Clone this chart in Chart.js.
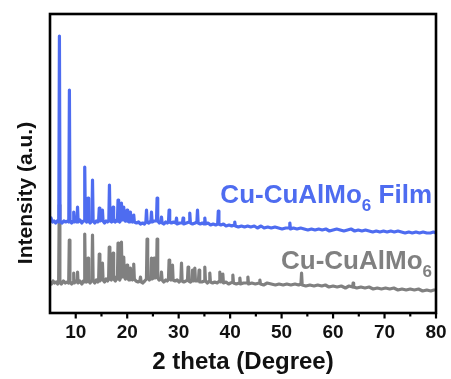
<!DOCTYPE html>
<html><head><meta charset="utf-8">
<script src="https://cdn.jsdelivr.net/npm/chart.js@4"></script>
<style>html,body{margin:0;padding:0;background:#fff}#wrap{width:451px;height:379px;position:relative}</style>
</head><body><div id="wrap"><canvas id="c"></canvas></div>
<script>
// ---- data ----
const xMajorTicks = [10, 20, 30, 40, 50, 60, 70, 80];
const xMinorTicks = [15, 25, 35, 45, 55, 65, 75];
const xTitle = '2 theta (Degree)';
const yTitle = 'Intensity (a.u.)';
const filmLabel = ['Cu-CuAlMo', '6', ' Film'];
const powderLabel = ['Cu-CuAlMo', '6', ''];

// [2theta, intensity (offset, a.u.)]  — Cu-CuAlMo6 Film (blue)
const filmPoints = [[5.0,93],[5.2,95],[5.5,91],[5.8,92],[6.1,90],[6.4,92],[6.71,91],[6.83,277],[6.95,92],[7.3,90],[7.7,92],[8.1,91],[8.4,92],[8.65,91],[8.77,223],[8.89,92],[9.2,90],[9.49,92],[9.61,101],[9.73,91],[10.0,92],[10.23,91],[10.35,106],[10.47,91],[10.8,93],[11.2,90],[11.45,92],[11.63,92],[11.75,146],[11.87,93],[12.1,91],[12.27,93],[12.39,115],[12.51,92],[12.8,90],[13.14,92],[13.26,133],[13.38,92],[13.7,90],[14.0,92],[14.3,91],[14.45,93],[14.57,105],[14.69,92],[15.07,93],[15.19,103],[15.31,92],[15.6,90],[15.9,92],[16.2,91],[16.43,93],[16.55,128],[16.67,92],[16.95,91],[17.13,93],[17.25,106],[17.37,92],[17.7,91],[17.95,93],[18.1,92],[18.22,113],[18.34,92],[18.55,91],[18.76,93],[18.88,110],[19.0,93],[19.21,94],[19.33,106],[19.45,93],[19.65,92],[19.85,93],[19.97,103],[20.09,92],[20.35,91],[20.51,93],[20.63,101],[20.75,92],[21.0,91],[21.15,93],[21.27,98],[21.39,91],[21.8,90],[22.2,91],[22.6,89],[23.0,90],[23.35,89],[23.63,91],[23.75,103],[23.87,91],[24.2,90],[24.6,92],[24.72,101],[24.84,91],[25.2,92],[25.69,92],[25.81,115],[25.93,92],[26.25,90],[26.54,91],[26.66,96],[26.78,90],[27.1,89],[27.5,91],[27.8,90],[28.02,91],[28.14,103],[28.26,91],[28.6,90],[29.0,91],[29.46,90],[29.58,95],[29.7,89],[30.2,90],[30.74,90],[30.86,95],[30.98,89],[31.5,90],[32.04,91],[32.16,100],[32.28,90],[32.7,89],[33.2,90],[33.54,91],[33.66,103],[33.78,90],[34.2,89],[34.6,90],[34.96,89],[35.08,95],[35.2,89],[35.7,90],[36.2,88],[36.7,89],[37.2,88],[37.58,89],[37.7,102],[37.82,89],[38.2,88],[38.7,89],[39.2,87],[39.8,88],[40.3,87],[40.78,88],[40.9,91],[41.02,87],[41.6,86],[42.2,87],[42.8,86],[43.4,87],[44.0,86],[44.7,87],[45.3,85],[46.0,87],[46.6,85],[47.3,86],[48.0,85],[48.7,86],[49.4,85],[50.1,84],[50.8,85],[51.48,85],[51.6,90],[51.72,84],[52.3,85],[53.0,84],[53.7,85],[54.4,84],[55.1,83],[55.8,84],[56.5,83],[57.2,84],[57.9,83],[58.6,84],[59.3,82],[60.0,83],[60.7,84],[61.4,83],[62.1,82],[62.8,83],[63.5,84],[64.2,82],[64.9,83],[65.6,82],[66.3,83],[67.0,82],[67.7,81],[68.4,82],[69.1,81],[69.8,82],[70.5,81],[71.2,82],[71.9,81],[72.6,82],[73.3,81],[74.0,80],[74.7,81],[75.4,80],[76.1,81],[76.8,80],[77.5,81],[78.2,80],[78.9,80],[79.5,81],[80.0,80]];

// [2theta, intensity (a.u.)] — Cu-CuAlMo6 (gray)
const powderPoints = [[5.0,31],[5.3,29],[5.6,32],[5.9,30],[6.2,31],[6.5,29],[6.68,32],[6.8,108],[6.92,31],[7.2,29],[7.6,32],[8.0,30],[8.3,31],[8.63,30],[8.75,73],[8.87,31],[9.2,29],[9.5,31],[9.61,40],[9.72,30],[10.0,32],[10.25,31],[10.35,41],[10.45,30],[10.8,32],[11.2,29],[11.5,32],[11.63,31],[11.75,79],[11.87,32],[12.1,31],[12.28,33],[12.39,55],[12.5,32],[12.8,30],[13.14,33],[13.26,78],[13.38,32],[13.7,30],[14.0,33],[14.3,31],[14.45,33],[14.57,59],[14.69,32],[15.07,34],[15.19,50],[15.31,33],[15.6,31],[15.9,34],[16.2,32],[16.39,35],[16.51,66],[16.63,34],[16.9,33],[17.13,35],[17.25,60],[17.37,34],[17.7,32],[17.95,36],[18.1,34],[18.22,70],[18.34,35],[18.55,33],[18.76,36],[18.88,71],[19.0,36],[19.21,37],[19.33,56],[19.45,36],[19.65,34],[19.85,36],[19.97,48],[20.09,35],[20.35,33],[20.51,36],[20.63,45],[20.75,35],[21.0,33],[21.15,36],[21.27,49],[21.39,34],[21.7,32],[22.1,31],[22.46,32],[22.58,36],[22.7,31],[23.0,30],[23.4,32],[23.74,34],[23.86,74],[23.98,35],[24.3,33],[24.6,35],[24.72,55],[24.84,34],[25.1,35],[25.22,55],[25.34,35],[25.69,36],[25.81,74],[25.93,35],[26.2,33],[26.54,34],[26.66,41],[26.78,33],[27.1,31],[27.5,33],[27.8,32],[28.02,34],[28.14,53],[28.26,34],[28.5,33],[28.68,34],[28.80,48],[28.92,33],[29.3,32],[29.7,33],[30.1,31],[30.43,33],[30.55,50],[30.67,32],[31.0,31],[31.4,32],[31.71,33],[31.83,46],[31.95,32],[32.3,31],[32.57,33],[32.69,43],[32.81,32],[33.02,33],[33.14,45],[33.26,32],[33.6,32],[33.85,33],[33.97,43],[34.09,31],[34.5,31],[34.96,32],[35.08,46],[35.2,32],[35.6,30],[35.93,32],[36.05,40],[36.17,31],[36.6,30],[37.0,31],[37.5,30],[37.88,32],[38.0,41],[38.12,31],[38.46,32],[38.58,39],[38.7,30],[39.2,31],[39.7,29],[40.1,30],[40.41,31],[40.53,38],[40.65,30],[41.2,29],[41.77,30],[41.89,35],[42.01,29],[42.6,30],[43.33,30],[43.45,36],[43.57,29],[44.2,30],[44.9,29],[45.66,30],[45.78,33],[45.9,29],[46.5,28],[47.2,30],[48.0,29],[48.8,28],[49.5,29],[50.3,28],[51.0,29],[51.8,28],[52.6,29],[53.3,28],[53.76,29],[53.88,40],[54.0,28],[54.7,27],[55.5,28],[56.3,27],[57.0,28],[57.8,27],[58.5,28],[59.2,26],[60.0,27],[60.8,26],[61.6,27],[62.4,25],[63.1,27],[63.8,26],[63.9,30],[64.0,26],[64.6,25],[65.4,26],[66.2,25],[67.0,26],[67.8,24],[68.6,25],[69.4,24],[70.2,25],[71.0,24],[71.8,25],[72.6,23],[73.4,24],[74.2,23],[75.0,24],[75.8,23],[76.6,24],[77.4,22],[78.2,23],[79.0,22],[79.6,23],[80.0,23]];

const BLUE = '#4e6cf0';
const GRAY = '#808080';
const FONT = '"Liberation Sans", Arial, sans-serif';

function drawLabel(ctx, parts, right, baseline, color) {
  ctx.save();
  ctx.fillStyle = color;
  ctx.textBaseline = 'alphabetic';
  ctx.textAlign = 'left';
  const big = 'bold 26px ' + FONT, small = 'bold 17px ' + FONT;
  ctx.font = big; const w0 = ctx.measureText(parts[0]).width; const w2 = ctx.measureText(parts[2]).width;
  ctx.font = small; const w1 = ctx.measureText(parts[1]).width;
  let x = right - (w0 + w1 + w2);
  ctx.font = big; ctx.fillText(parts[0], x, baseline); x += w0;
  ctx.font = small; ctx.fillText(parts[1], x, baseline + 8); x += w1;
  ctx.font = big; ctx.fillText(parts[2], x, baseline);
  ctx.restore();
}

const decor = {
  id: 'decor',
  afterDraw(chart) {
    const ctx = chart.ctx, a = chart.chartArea, xs = chart.scales.x;
    ctx.save();
    ctx.strokeStyle = '#000'; ctx.lineWidth = 2.6;
    ctx.strokeRect(a.left, a.top, a.right - a.left, a.bottom - a.top);
    ctx.lineWidth = 2.2;
    xMajorTicks.forEach(v => { const p = xs.getPixelForValue(v); ctx.beginPath(); ctx.moveTo(p, a.bottom); ctx.lineTo(p, a.bottom + 5.5); ctx.stroke(); });
    xMinorTicks.forEach(v => { const p = xs.getPixelForValue(v); ctx.beginPath(); ctx.moveTo(p, a.bottom); ctx.lineTo(p, a.bottom + 3.5); ctx.stroke(); });
    ctx.fillStyle = '#111'; ctx.font = 'bold 19px ' + FONT; ctx.textAlign = 'center'; ctx.textBaseline = 'middle';
    xMajorTicks.forEach(v => ctx.fillText(String(v), xs.getPixelForValue(v), a.bottom + 20));
    ctx.font = 'bold 24px ' + FONT;
    ctx.fillText(xTitle, 243, a.bottom + 49);
    ctx.save();
    ctx.translate(26, 193); ctx.rotate(-Math.PI / 2);
    ctx.font = 'bold 21px ' + FONT;
    ctx.fillText(yTitle, 0, 0);
    ctx.restore();
    drawLabel(ctx, filmLabel, 432, 203, BLUE);
    drawLabel(ctx, powderLabel, 432, 269, GRAY);
    ctx.restore();
  }
};

new Chart(document.getElementById('c'), {
  type: 'line',
  data: {
    datasets: [
      { label: 'Cu-CuAlMo6 Film', data: filmPoints, borderColor: BLUE, borderWidth: 3.2, pointRadius: 0, tension: 0, borderJoinStyle: 'round' },
      { label: 'Cu-CuAlMo6', data: powderPoints, borderColor: GRAY, borderWidth: 3.2, pointRadius: 0, tension: 0, borderJoinStyle: 'round' }
    ]
  },
  options: {
    responsive: true, maintainAspectRatio: false, animation: false,
    layout: { padding: { left: 50, right: 15, top: 14, bottom: 66 } },
    plugins: { legend: { display: false }, tooltip: { enabled: false } },
    scales: {
      x: { type: 'linear', min: 5, max: 80, display: false },
      y: { type: 'linear', min: 0, max: 299, display: false }
    }
  },
  plugins: [decor]
});
</script></body></html>
